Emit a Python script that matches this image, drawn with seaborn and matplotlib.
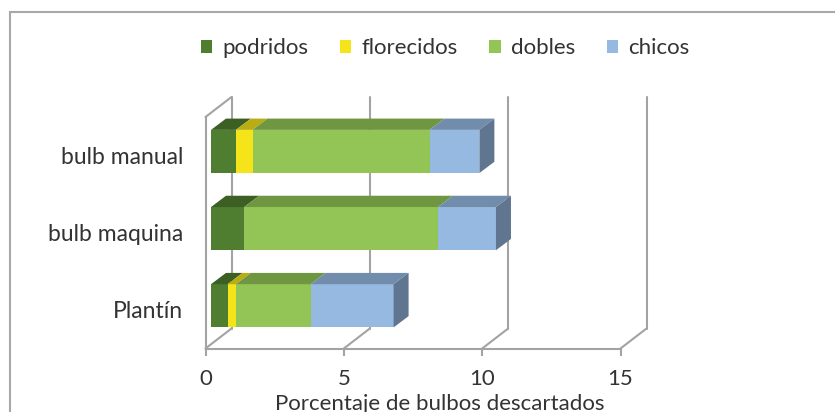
import numpy as np
import matplotlib
matplotlib.use("Agg")
import matplotlib.pyplot as plt
import seaborn as sns
from matplotlib.patches import Polygon, Rectangle, Patch
from matplotlib.lines import Line2D
from matplotlib.transforms import ScaledTranslation
import matplotlib.colors as mcolors

# Data: percentage of discarded bulbs by cause and planting method
categories = ["bulb manual", "bulb maquina", "Plantín"]
podridos = [0.9, 1.2, 0.6]
florecidos = [0.6, 0.0, 0.3]
dobles = [6.4, 7.0, 2.7]
chicos = [1.8, 2.1, 3.0]
series_names = ["podridos", "florecidos", "dobles", "chicos"]
series_colors = ["#4F7E30", "#F5E419", "#92C555", "#96B9E1"]
x_ticks = [0, 5, 10, 15]
x_label = "Porcentaje de bulbos descartados"

sns.set_theme(style="white")
plt.rcParams["font.family"] = ["Lato", "DejaVu Sans"]
TEXT = "#333333"
LINE = "#A3A3A3"
FS = 16

DPI = 100
W, H = 835, 412
fig = plt.figure(figsize=(W / DPI, H / DPI), dpi=DPI)
ax = fig.add_axes([205.5 / W, 1 - 348.5 / H, 415 / W, 231.5 / H])

XMAX = 15
ppx = 415 / XMAX          # pixels per x unit
ppy = 231.5 / 3           # pixels per category slot

values = np.array([podridos, florecidos, dobles, chicos])
cum = np.cumsum(values, axis=0)
BAR_W = 0.56

# stacked front faces: widest (total) first, inner segments on top
for i in reversed(range(len(series_names))):
    sns.barplot(x=cum[i], y=categories, orient="h", color=series_colors[i],
                width=BAR_W, saturation=1, errorbar=None, ax=ax, zorder=3)

# oblique projection: front plane of bars sits a bit inside the box
front = ax.transData + ScaledTranslation(5.5 / DPI, 4.1 / DPI, fig.dpi_scale_trans)
for p in ax.patches:
    p.set_transform(front)
    p.set_clip_on(False)
    p.set_linewidth(0)

# bar depth and box depth in data units (screen up = smaller y)
ddx, ddy = 15 / ppx, -11.3 / ppy
Dx, Dy = 26 / ppx, -20 / ppy


def shade(c, f):
    r, g, b = mcolors.to_rgb(c)
    return (r * f, g * f, b * f)


for j in range(len(categories)):
    y_top, y_bot = j - BAR_W / 2, j + BAR_W / 2
    for i in range(len(series_names)):
        if values[i, j] <= 0:
            continue
        left, right = cum[i, j] - values[i, j], cum[i, j]
        ax.add_patch(Polygon([(left, y_top), (right, y_top),
                              (right + ddx, y_top + ddy), (left + ddx, y_top + ddy)],
                             closed=True, facecolor=shade(series_colors[i], 0.76),
                             lw=0, transform=front, clip_on=False, zorder=3))
    tot = cum[-1, j]
    ax.add_patch(Polygon([(tot, y_top), (tot, y_bot),
                          (tot + ddx, y_bot + ddy), (tot + ddx, y_top + ddy)],
                         closed=True, facecolor=shade(series_colors[-1], 0.64),
                         lw=0, transform=front, clip_on=False, zorder=3))

# back wall gridlines, floor edges and left wall top edge
for k in x_ticks:
    ax.add_line(Line2D([k + Dx, k + Dx], [2.5 + Dy, -0.5 + Dy], color=LINE, lw=1.5,
                       clip_on=False, zorder=1))
    ax.add_line(Line2D([k, k + Dx], [2.5, 2.5 + Dy], color=LINE, lw=1.5,
                       clip_on=False, zorder=1))
ax.add_line(Line2D([0, Dx], [-0.5, -0.5 + Dy], color=LINE, lw=1.5,
                   clip_on=False, zorder=1))

ax.set_xlim(0, XMAX)
ax.set_ylim(2.5, -0.5)
ax.set_xticks(x_ticks)
ax.set_xticklabels([str(t) for t in x_ticks])
ax.set_ylabel("")
ax.set_xlabel(x_label, fontsize=FS, color=TEXT)
ax.xaxis.set_label_coords(0.565, -0.195)
ax.grid(False)
for s in ["top", "right"]:
    ax.spines[s].set_visible(False)
for s in ["left", "bottom"]:
    ax.spines[s].set_color(LINE)
    ax.spines[s].set_linewidth(1.5)
    ax.spines[s].set_zorder(1)
ax.tick_params(axis="x", direction="out", length=5, width=1.5, color=LINE,
               labelsize=FS, labelcolor=TEXT, pad=10, bottom=True)
ax.tick_params(axis="y", length=0, labelsize=16.5, labelcolor=TEXT, pad=16)
ax.set_facecolor("none")

handles = [Patch(facecolor=c, edgecolor="none", label=n)
           for n, c in zip(series_names, series_colors)]
leg = fig.legend(handles=handles, loc="center", bbox_to_anchor=(445 / W, 1 - 48 / H),
                 ncol=4, frameon=False, fontsize=FS, handlelength=0.52, handleheight=0.52,
                 handletextpad=0.45, columnspacing=1.42, borderaxespad=0, borderpad=0)
for t in leg.get_texts():
    t.set_color(TEXT)

# chart area frame
fig.add_artist(Rectangle((10 / W, -0.2), 1.2, 1.2 - 12 / H, transform=fig.transFigure,
                         fill=False, edgecolor="#A8A8A8", lw=1.5))

fig.savefig("out.png", dpi=DPI, facecolor="white")
